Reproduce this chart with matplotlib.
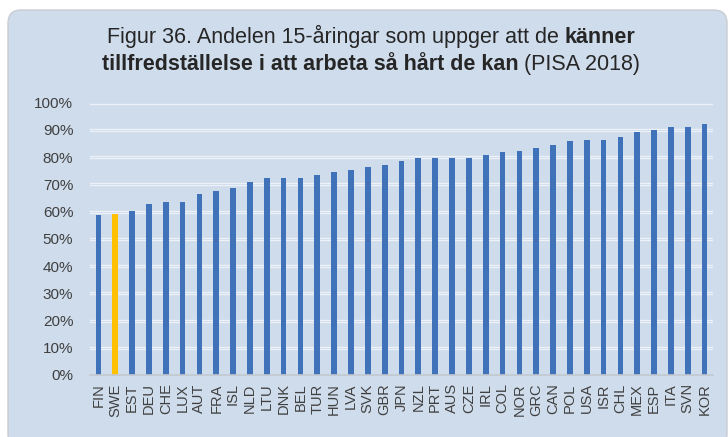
import matplotlib.pyplot as plt
from matplotlib.patches import FancyBboxPatch
from matplotlib.ticker import PercentFormatter

countries = ["FIN", "SWE", "EST", "DEU", "CHE", "LUX", "AUT", "FRA", "ISL", "NLD",
             "LTU", "DNK", "BEL", "TUR", "HUN", "LVA", "SVK", "GBR", "JPN", "NZL",
             "PRT", "AUS", "CZE", "IRL", "COL", "NOR", "GRC", "CAN", "POL", "USA",
             "ISR", "CHL", "MEX", "ESP", "ITA", "SVN", "KOR"]
share = [58.6, 59.1, 60.2, 62.8, 63.4, 63.4, 66.3, 67.7, 68.5, 70.7,
         72.2, 72.2, 72.5, 73.6, 74.5, 75.3, 76.4, 77.0, 78.7, 79.6,
         79.8, 79.8, 79.8, 80.7, 81.9, 82.4, 83.2, 84.5, 85.8, 86.2,
         86.4, 87.5, 89.2, 90.1, 91.2, 91.2, 92.0]
highlight = "SWE"

title_line1 = [("Figur 36. Andelen 15-åringar som uppger att de ", "normal"), ("känner", "bold")]
title_line2 = [("tillfredställelse i att arbeta så hårt de kan", "bold"), (" (PISA 2018)", "normal")]

bg = "#cfdcec"
blue = "#3f72b9"
gold = "#ffc000"
grey_txt = "#404040"

plt.rcParams['font.family'] = ['Liberation Sans', 'DejaVu Sans']

W, H = 728, 437
fig = plt.figure(figsize=(W / 100, H / 100), dpi=100)
fig.patch.set_facecolor("white")

# rounded panel behind everything
panel = FancyBboxPatch((8 / W, -10 / H), 719 / W, 437 / H,
                       boxstyle="round,pad=0,rounding_size=0.018",
                       transform=fig.transFigure, facecolor=bg,
                       edgecolor="#c9ccd2", linewidth=1.0, zorder=-5,
                       mutation_aspect=W / H)
fig.patches.append(panel)

ax = fig.add_axes([90 / W, 1 - 375 / H, 623 / W, (375 - 102.7) / H])
ax.set_facecolor("none")
ax.set_zorder(2)

x = list(range(len(countries)))
colors = [gold if c == highlight else blue for c in countries]
ax.bar(x, share, width=0.34, color=colors, zorder=3)

ax.set_xlim(-0.5, len(countries) - 0.5)
ax.set_ylim(0, 100)
ax.set_yticks(range(0, 101, 10))
ax.yaxis.set_major_formatter(PercentFormatter(decimals=0))
ax.set_xticks(x)
ax.set_xticklabels(countries, rotation=90)

# double-line gridlines
for t in range(10, 101, 10):
    ax.axhline(t, color="#eef2f8", lw=2.4, zorder=1)
    ax.axhline(t, color=bg, lw=0.6, zorder=1.5)

for s in ["top", "right", "left"]:
    ax.spines[s].set_visible(False)
ax.spines["bottom"].set_color("#c4c8cf")
ax.spines["bottom"].set_linewidth(1.2)
ax.spines["bottom"].set_zorder(4)
ax.tick_params(axis="both", length=0, colors=grey_txt)
ax.tick_params(axis="y", labelsize=11, pad=12)
ax.tick_params(axis="x", labelsize=10.5, pad=6)


def centered_line(parts, y_px, size):
    renderer = fig.canvas.get_renderer()
    texts = []
    for s, w in parts:
        t = fig.text(0, 1 - y_px / H, s, fontsize=size, fontweight=w,
                     color="#262626", va="baseline", ha="left")
        texts.append(t)
    widths = [t.get_window_extent(renderer).width for t in texts]
    x0 = 371 - sum(widths) / 2
    for t, w in zip(texts, widths):
        t.set_x(x0 / W)
        x0 += w


centered_line(title_line1, 43, 15.5)
centered_line(title_line2, 70, 15.5)

fig.savefig("out.png", dpi=100)
